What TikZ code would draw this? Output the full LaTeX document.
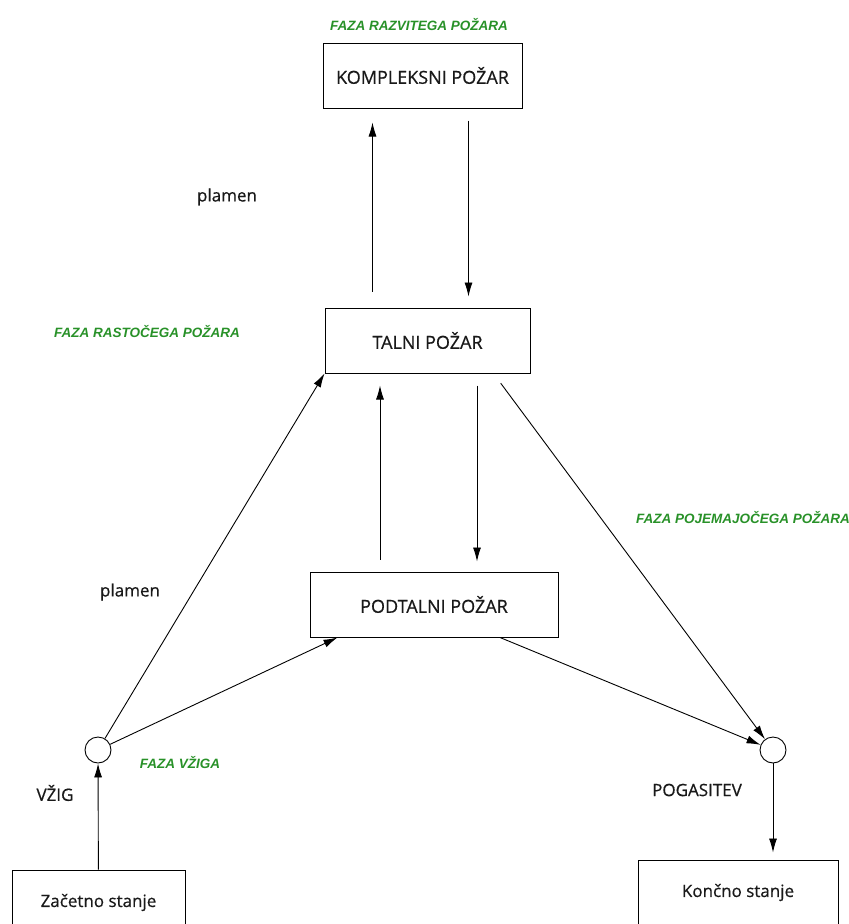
\documentclass[tikz,border=0pt]{standalone}
\usepackage{fontspec}
\newfontfamily\boxfont{Open Sans}[FakeBold=0.6]
\newfontfamily\fazafont{Liberation Sans}
\usetikzlibrary{positioning,arrows.meta}
\definecolor{fazagreen}{RGB}{40,145,40}

\begin{document}
\begin{tikzpicture}[x=1pt, y=-1pt,
    pozar/.style={draw, line width=1pt, minimum height=65pt, inner sep=0pt,
      text=black!90, font=\boxfont\fontsize{18}{20}\selectfont},
    stanje/.style={draw, line width=1pt, minimum height=65pt, inner sep=0pt,
      text=black!90, font=\boxfont\fontsize{17}{19}\selectfont},
    kolo/.style={circle, draw, line width=0.9pt, minimum size=26pt, inner sep=0pt},
    faza/.style={text=fazagreen, font=\fazafont\bfseries\itshape\fontsize{13.5}{15}\selectfont},
    oznaka/.style={text=black!90, font=\boxfont\fontsize{17}{19}\selectfont},
    arr/.style={-{Latex[length=14pt,width=8pt]}, line width=0.9pt}]
  \useasboundingbox (0,0) rectangle (849,924);

  % states of the fire
  \node[pozar, minimum width=199pt] (kompl) at (422.5,75.5) {KOMPLEKSNI POŽAR};
  \node[pozar, minimum width=205pt] (talni) at (427.5,340.5) {TALNI POŽAR};
  \node[pozar, minimum width=248pt] (podtalni) at (434,604.5) {PODTALNI POŽAR};
  \node[stanje, minimum width=173pt] (zacetno) at (98.5,902.5) {Začetno stanje};
  \node[stanje, minimum width=200pt] (koncno) at (738,892.5) {Končno stanje};
  \node[kolo] (vzig) at (98,750) {};
  \node[kolo] (konec) at (773,750) {};

  % phases and labels
  \node[faza] (fazaRazvoj) at (419,25) {FAZA RAZVITEGA POŽARA};
  \node[faza] (fazaRast) at (147,332) {FAZA RASTOČEGA POŽARA};
  \node[faza] (fazaPojem) at (743,518) {FAZA POJEMAJOČEGA POŽARA};
  \node[faza] (fazaVzig) at (180,763) {FAZA VŽIGA};
  \node[oznaka] (plamenZg) at (227,197) {plamen};
  \node[oznaka] (plamenSp) at (130,592) {plamen};
  \node[oznaka] (vzigTxt) at (55,793) {VŽIG};
  \node[oznaka] (pogasitev) at (697,790) {POGASITEV};

  % transitions
  \draw[arr] (zacetno) -- (vzig);
  \draw[arr] (vzig) -- (talni.south west);
  \draw[arr] (vzig) -- ([xshift=28pt]podtalni.south west);
  \draw[arr, shorten <=12pt, shorten >=12pt] ([xshift=-54pt]podtalni.north) -- ([xshift=-54pt]podtalni.north |- talni.south);
  \draw[arr, shorten <=12pt, shorten >=10pt] ([xshift=49.5pt]talni.south) -- ([xshift=49.5pt]talni.south |- podtalni.north);
  \draw[arr, shorten <=16pt, shorten >=14pt] ([xshift=-55pt]talni.north) -- ([xshift=-55pt]talni.north |- kompl.south);
  \draw[arr, shorten <=12pt, shorten >=11pt] ([xshift=46pt]kompl.south) -- ([xshift=46pt]kompl.south |- talni.north);
  \draw[arr, shorten <=12pt] ([xshift=66pt]talni.south) -- (konec);
  \draw[arr] ([xshift=66pt]podtalni.south) -- (konec);
  \draw[arr, shorten >=7pt] (konec.south) -- (konec.south |- koncno.north);
\end{tikzpicture}
\end{document}
